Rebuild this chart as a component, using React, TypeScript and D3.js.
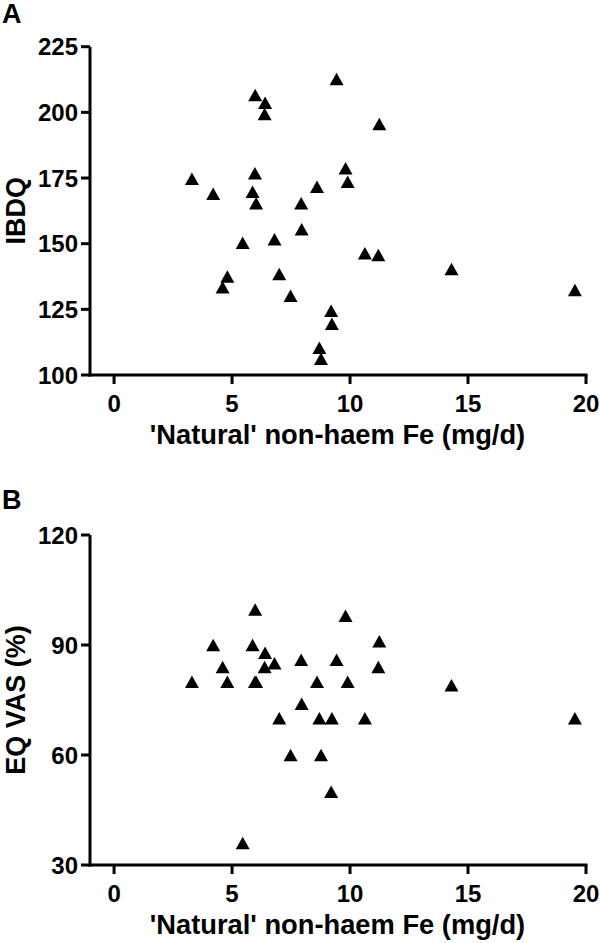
import React from "react";
import * as d3 from "d3";

// 'Natural' non-haem Fe intake (mg/d), shared by both panels
const iron = [3.3, 4.2, 4.6, 4.8, 5.45, 5.87, 5.97, 6.02, 5.98, 6.4, 6.38, 6.8, 7.0, 7.48, 7.93, 7.95, 8.6, 8.7, 8.77, 9.2, 9.23, 9.43, 9.81, 9.9, 10.63, 11.2, 11.24, 14.3, 19.53];
// Panel A: IBDQ
const ibdq = [174.7, 169, 133.4, 137.5, 150.4, 169.8, 176.8, 165.4, 206.6, 203.7, 199.4, 151.7, 138.5, 130.2, 165.4, 155.5, 171.7, 110.4, 106.2, 124.5, 119.5, 212.7, 178.7, 173.6, 146.4, 145.7, 195.6, 140.4, 132.4];
// Panel B: EQ VAS (%)
const eqvas = [80, 90, 84, 80, 36, 90, 80, 80, 99.7, 87.9, 84, 85, 70, 60, 86, 74, 80, 70, 60, 50, 70, 86, 98, 80, 70, 84, 91, 79, 70];

const xTicks = [0, 5, 10, 15, 20];
const yTicksA = [100, 125, 150, 175, 200, 225];
const yTicksB = [30, 60, 90, 120];
const xTitle = "'Natural' non-haem Fe (mg/d)";

const FONT = "'Liberation Sans', Arial, Helvetica, sans-serif";

function triPath(cx: number, cy: number, w = 14, h = 12.5) {
  return `M${cx},${cy - h / 2}L${cx + w / 2},${cy + h / 2}L${cx - w / 2},${cy + h / 2}Z`;
}

type PanelProps = {
  letter: string;
  letterY: number;
  yTitle: string;
  ys: number[];
  yDomain: [number, number];
  yTicks: number[];
  top: number;
  bottom: number;
};

function Panel({ letter, letterY, yTitle, ys, yDomain, yTicks, top, bottom }: PanelProps) {
  const x = d3.scaleLinear().domain([-1.02, 20]).range([90, 586]);
  const y = d3.scaleLinear().domain(yDomain).range([bottom, top]);
  const axisX = x.range()[0];
  const tick = 9;
  return (
    <g>
      <text x={2} y={letterY} fontFamily={FONT} fontWeight="bold" fontSize={27} fill="#000">
        {letter}
      </text>
      {/* y axis */}
      <line x1={axisX} x2={axisX} y1={top} y2={bottom + 1.5} stroke="#000" strokeWidth={3} />
      {yTicks.map((t) => (
        <g key={t}>
          <line x1={axisX - tick} x2={axisX} y1={y(t)} y2={y(t)} stroke="#000" strokeWidth={3} />
          <text
            x={axisX - tick - 3}
            y={y(t)}
            dy="0.36em"
            textAnchor="end"
            fontFamily={FONT}
            fontWeight="bold"
            fontSize={24}
            fill="#000"
          >
            {t}
          </text>
        </g>
      ))}
      {/* x axis */}
      <line x1={axisX - 1.5} x2={x(20) + 1.5} y1={bottom} y2={bottom} stroke="#000" strokeWidth={3} />
      {xTicks.map((t) => (
        <g key={t}>
          <line x1={x(t)} x2={x(t)} y1={bottom} y2={bottom + tick} stroke="#000" strokeWidth={3} />
          <text
            x={x(t)}
            y={bottom + 37}
            textAnchor="middle"
            fontFamily={FONT}
            fontWeight="bold"
            fontSize={24}
            fill="#000"
          >
            {t}
          </text>
        </g>
      ))}
      <text
        x={337.5}
        y={bottom + 69}
        textAnchor="middle"
        fontFamily={FONT}
        fontWeight="bold"
        fontSize={27.3}
        fill="#000"
      >
        {xTitle}
      </text>
      <text
        transform={`translate(25,${(top + bottom) / 2}) rotate(-90)`}
        textAnchor="middle"
        fontFamily={FONT}
        fontWeight="bold"
        fontSize={27}
        fill="#000"
      >
        {yTitle}
      </text>
      {iron.map((v, i) => (
        <path key={i} d={triPath(x(v), y(ys[i]))} fill="#000" />
      ))}
    </g>
  );
}

export default function App() {
  return (
    <svg
      width={600}
      height={943}
      viewBox="0 0 600 943"
      style={{ position: "absolute", left: 0, top: 0, background: "#fff" }}
    >
      <rect width={600} height={943} fill="#fff" />
      <Panel letter="A" letterY={23} yTitle="IBDQ" ys={ibdq} yDomain={[100, 225]} yTicks={yTicksA} top={46.7} bottom={375} />
      <Panel letter="B" letterY={509} yTitle="EQ VAS (%)" ys={eqvas} yDomain={[30, 120]} yTicks={yTicksB} top={535} bottom={865} />
    </svg>
  );
}
